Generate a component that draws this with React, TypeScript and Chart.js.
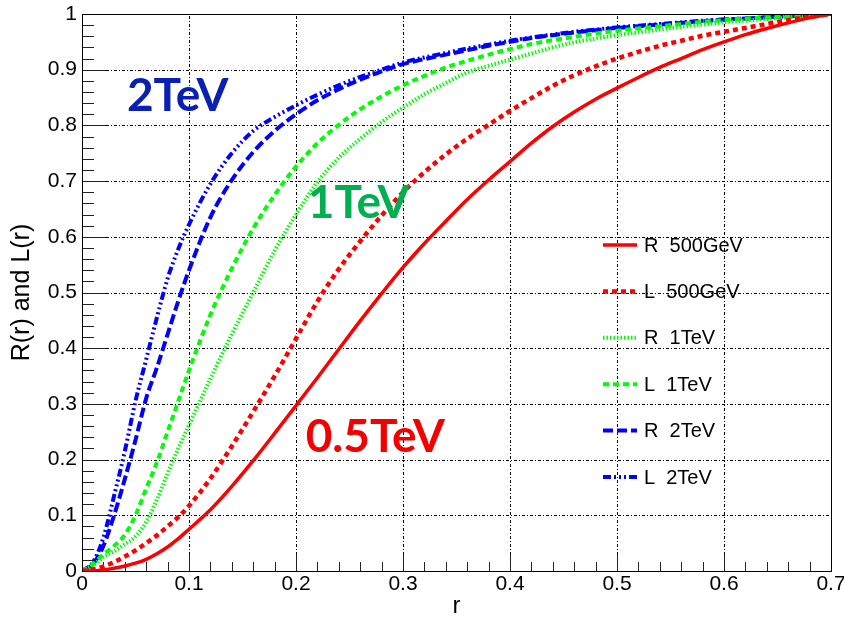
import React, { useEffect, useRef } from "react";
import { Chart, registerables } from "chart.js";

Chart.register(...registerables);

// ---- data ----
const rGrid = [0, 0.01, 0.02, 0.03, 0.04, 0.05, 0.06, 0.07, 0.08, 0.09, 0.1, 0.12, 0.14, 0.16, 0.18, 0.2, 0.22, 0.24, 0.26, 0.28, 0.3, 0.32, 0.34, 0.36, 0.38, 0.4, 0.42, 0.44, 0.46, 0.48, 0.5, 0.52, 0.54, 0.56, 0.58, 0.6, 0.62, 0.64, 0.66, 0.68, 0.7];

const R500 = [0, 0, 0.002, 0.005, 0.009, 0.014, 0.021, 0.031, 0.043, 0.058, 0.075, 0.11, 0.152, 0.198, 0.247, 0.297, 0.347, 0.398, 0.449, 0.498, 0.545, 0.588, 0.628, 0.667, 0.702, 0.735, 0.768, 0.798, 0.824, 0.847, 0.867, 0.886, 0.904, 0.92, 0.936, 0.95, 0.963, 0.974, 0.984, 0.993, 1.0];
const L500 = [0, 0.003, 0.008, 0.016, 0.026, 0.037, 0.05, 0.064, 0.08, 0.097, 0.117, 0.166, 0.224, 0.286, 0.35, 0.417, 0.484, 0.542, 0.592, 0.638, 0.68, 0.716, 0.748, 0.776, 0.801, 0.826, 0.849, 0.871, 0.89, 0.906, 0.92, 0.932, 0.943, 0.952, 0.961, 0.968, 0.975, 0.982, 0.989, 0.995, 1.0];
const R1T = [0, 0.01, 0.025, 0.035, 0.048, 0.062, 0.088, 0.128, 0.175, 0.22, 0.262, 0.345, 0.425, 0.5, 0.575, 0.64, 0.698, 0.742, 0.776, 0.806, 0.832, 0.856, 0.876, 0.895, 0.907, 0.918, 0.929, 0.94, 0.949, 0.956, 0.962, 0.967, 0.972, 0.977, 0.981, 0.985, 0.988, 0.991, 0.994, 0.997, 1.0];
const L1T = [0, 0.012, 0.03, 0.045, 0.065, 0.1, 0.148, 0.195, 0.25, 0.305, 0.36, 0.46, 0.543, 0.615, 0.675, 0.726, 0.768, 0.801, 0.829, 0.852, 0.872, 0.889, 0.904, 0.916, 0.927, 0.937, 0.946, 0.953, 0.959, 0.965, 0.97, 0.974, 0.978, 0.982, 0.986, 0.989, 0.992, 0.994, 0.996, 0.998, 1.0];
const R2T = [0, 0.012, 0.045, 0.1, 0.165, 0.235, 0.31, 0.365, 0.425, 0.485, 0.54, 0.635, 0.702, 0.752, 0.79, 0.82, 0.845, 0.865, 0.882, 0.897, 0.91, 0.919, 0.927, 0.935, 0.943, 0.95, 0.957, 0.962, 0.967, 0.971, 0.975, 0.978, 0.981, 0.984, 0.987, 0.99, 0.992, 0.994, 0.996, 0.998, 1.0];
const L2T = [0, 0.015, 0.06, 0.135, 0.215, 0.305, 0.38, 0.455, 0.525, 0.578, 0.622, 0.695, 0.75, 0.79, 0.815, 0.836, 0.855, 0.872, 0.887, 0.9, 0.913, 0.922, 0.93, 0.938, 0.945, 0.952, 0.958, 0.963, 0.968, 0.972, 0.976, 0.979, 0.982, 0.985, 0.988, 0.99, 0.992, 0.994, 0.996, 0.998, 1.0];

const seriesLabels = ["R  500GeV", "L  500GeV", "R  1TeV", "L  1TeV", "R  2TeV", "L  2TeV"];

const xTickValues = [0, 0.1, 0.2, 0.3, 0.4, 0.5, 0.6, 0.7];
const xTickLabels = ["0", "0.1", "0.2", "0.3", "0.4", "0.5", "0.6", "0.7"];
const yTickValues = [0, 0.1, 0.2, 0.3, 0.4, 0.5, 0.6, 0.7, 0.8, 0.9, 1];
const yTickLabels = ["0", "0.1", "0.2", "0.3", "0.4", "0.5", "0.6", "0.7", "0.8", "0.9", "1"];

const annotationTexts = ["2TeV", "1TeV", "0.5TeV"];
const annotationR = [0.042, 0.211, 0.209];
const annotationV = [0.826, 0.634, 0.214];
const annotationColors = ["#0a20b4", "#00b050", "#f50000"];

const X_MIN = 0, X_MAX = 0.7, Y_MIN = 0, Y_MAX = 1;
const MINOR_STEP = 0.02;

const tickFont = { family: "'Liberation Sans', Arial, sans-serif", size: 21 };

function toPoints(vals: number[]) {
  return rGrid.map((r, i) => ({ x: r, y: vals[i] }));
}

const rootPlugin = {
  id: "rootFrame",
  beforeDatasetsDraw(chart: any) {
    const { ctx, chartArea: a } = chart;
    const x = chart.scales.x, y = chart.scales.y;
    ctx.save();
    // grid
    ctx.strokeStyle = "#000";
    ctx.lineWidth = 1;
    ctx.setLineDash([3, 2, 1, 2]);
    for (const t of xTickValues) {
      if (t <= X_MIN || t >= X_MAX) continue;
      const px = Math.round(x.getPixelForValue(t)) + 0.5;
      ctx.beginPath(); ctx.moveTo(px, a.bottom); ctx.lineTo(px, a.top); ctx.stroke();
    }
    for (const t of yTickValues) {
      if (t <= Y_MIN || t >= Y_MAX) continue;
      const py = Math.round(y.getPixelForValue(t)) + 0.5;
      ctx.beginPath(); ctx.moveTo(a.left, py); ctx.lineTo(a.right, py); ctx.stroke();
    }
    ctx.setLineDash([]);
    // tick marks (inside the frame)
    ctx.strokeStyle = "#222";
    const nx = Math.round((X_MAX - X_MIN) / MINOR_STEP);
    for (let i = 0; i <= nx; i++) {
      const v = X_MIN + i * MINOR_STEP;
      const major = i % 5 === 0;
      const px = Math.round(x.getPixelForValue(v)) + 0.5;
      ctx.beginPath(); ctx.moveTo(px, a.bottom); ctx.lineTo(px, a.bottom - (major ? 17 : 9)); ctx.stroke();
    }
    const ny = Math.round((Y_MAX - Y_MIN) / MINOR_STEP);
    for (let i = 0; i <= ny; i++) {
      const v = Y_MIN + i * MINOR_STEP;
      const major = i % 5 === 0;
      const py = Math.round(y.getPixelForValue(v)) + 0.5;
      ctx.beginPath(); ctx.moveTo(a.left, py); ctx.lineTo(a.left + (major ? 24 : 12), py); ctx.stroke();
    }
    ctx.restore();
  },
  afterDraw(chart: any) {
    const { ctx, chartArea: a } = chart;
    const x = chart.scales.x, y = chart.scales.y;
    ctx.save();
    // frame
    ctx.setLineDash([]);
    ctx.strokeStyle = "#000";
    ctx.lineWidth = 1;
    ctx.strokeRect(Math.round(a.left) + 0.5, Math.round(a.top) + 0.5, Math.round(a.right - a.left), Math.round(a.bottom - a.top));
    // annotations
    ctx.textAlign = "left";
    ctx.textBaseline = "alphabetic";
    ctx.font = "bold 46px Lato, 'Open Sans', sans-serif";
    annotationTexts.forEach((t, i) => {
      ctx.fillStyle = annotationColors[i];
      ctx.fillText(t, x.getPixelForValue(annotationR[i]), y.getPixelForValue(annotationV[i]));
    });
    // legend
    const lx0 = 603, lx1 = 637, ltx = 644, ly0 = 245, ldy = 46.4;
    chart.data.datasets.forEach((ds: any, i: number) => {
      const ly = ly0 + i * ldy;
      ctx.strokeStyle = ds.borderColor;
      ctx.lineWidth = ds.borderWidth;
      ctx.setLineDash(ds.borderDash || []);
      ctx.beginPath(); ctx.moveTo(lx0, ly); ctx.lineTo(lx1, ly); ctx.stroke();
      ctx.setLineDash([]);
      ctx.fillStyle = "#000";
      ctx.font = "20px 'Liberation Sans', Arial, sans-serif";
      ctx.textBaseline = "middle";
      ctx.fillText(ds.label, ltx, ly + 1);
    });
    ctx.restore();
  },
};

export default function App() {
  const ref = useRef<HTMLCanvasElement | null>(null);
  useEffect(() => {
    if (!ref.current) return;
    const styles = [
      { color: "#ff0000", width: 3.5, dash: [] as number[] },
      { color: "#ff0000", width: 4.5, dash: [5, 4] },
      { color: "#00ff00", width: 4, dash: [1.5, 2] },
      { color: "#00ff00", width: 4, dash: [6, 4] },
      { color: "#0000ff", width: 4, dash: [10, 4] },
      { color: "#0000ff", width: 4, dash: [8, 3, 2, 3, 2, 3, 2, 3] },
    ];
    const series = [R500, L500, R1T, L1T, R2T, L2T];
    const chart = new Chart(ref.current, {
      type: "line",
      data: {
        datasets: series.map((vals, i) => ({
          label: seriesLabels[i],
          data: toPoints(vals),
          borderColor: styles[i].color,
          backgroundColor: styles[i].color,
          borderWidth: styles[i].width,
          borderDash: styles[i].dash,
          pointRadius: 0,
          fill: false,
          cubicInterpolationMode: "monotone" as const,
        })),
      },
      options: {
        responsive: false,
        animation: false,
        layout: { padding: { top: 14, right: 13, left: 0, bottom: 0 } },
        plugins: { legend: { display: false }, tooltip: { enabled: false } },
        scales: {
          x: {
            type: "linear",
            min: X_MIN,
            max: X_MAX,
            grid: { display: false, drawTicks: false },
            border: { display: false },
            afterBuildTicks: (s: any) => { s.ticks = xTickValues.map((v) => ({ value: v })); },
            ticks: {
              font: tickFont,
              color: "#000",
              padding: 1,
              maxRotation: 0,
              autoSkip: false,
              callback: (_v: any, i: number) => xTickLabels[i],
            },
            title: {
              display: true,
              text: "r",
              color: "#000",
              font: { family: "'Liberation Sans', Arial, sans-serif", size: 24 },
              padding: { top: 0, bottom: 3 },
            },
            afterFit: (s: any) => { s.height = 53; s.paddingLeft = 0; s.paddingRight = 0; },
          },
          y: {
            type: "linear",
            min: Y_MIN,
            max: Y_MAX,
            grid: { display: false, drawTicks: false },
            border: { display: false },
            afterBuildTicks: (s: any) => { s.ticks = yTickValues.map((v) => ({ value: v })); },
            ticks: {
              font: tickFont,
              color: "#000",
              padding: 5,
              autoSkip: false,
              callback: (_v: any, i: number) => yTickLabels[i],
            },
            title: {
              display: true,
              text: "R(r) and L(r)",
              color: "#000",
              font: { family: "'Liberation Sans', Arial, sans-serif", size: 25 },
              padding: { top: 7, bottom: 0 },
            },
            afterFit: (s: any) => { s.width = 82; s.paddingTop = 0; s.paddingBottom = 0; },
          },
        },
      },
      plugins: [rootPlugin],
    });
    return () => chart.destroy();
  }, []);
  return (
    <div style={{ position: "fixed", left: 0, top: 0, width: 844, height: 624, background: "#fff" }}>
      <canvas ref={ref} width={844} height={624} style={{ display: "block", width: 844, height: 624 }} />
    </div>
  );
}
